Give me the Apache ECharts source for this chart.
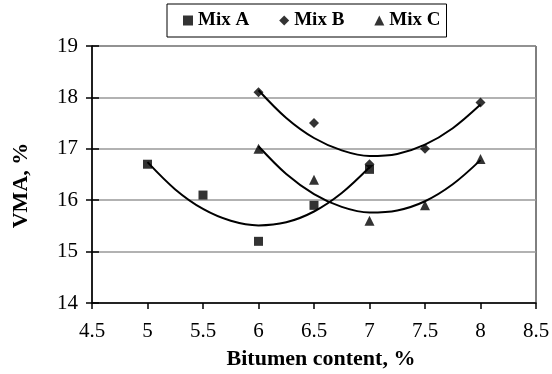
<!DOCTYPE html>
<html>
<head>
<meta charset="utf-8">
<script src="https://cdn.jsdelivr.net/npm/echarts@6/dist/echarts.min.js"></script>
<style>
  html, body { margin: 0; padding: 0; background: #fff; }
  #chart { width: 552px; height: 374px; }
</style>
</head>
<body>
<div id="chart"></div>
<script>
// measured points
const mixAx = [5, 5.5, 6, 6.5, 7];
const mixA = [16.7, 16.1, 15.2, 15.9, 16.6];
const mixBCx = [6, 6.5, 7, 7.5, 8];
const mixB = [18.1, 17.5, 16.7, 17.0, 17.9];
const mixC = [17.0, 16.4, 15.6, 15.9, 16.8];

// trend curves, every 0.25 %
const trendAx = [5, 5.25, 5.5, 5.75, 6, 6.25, 6.5, 6.75, 7];
const trendA = [16.74, 16.21, 15.83, 15.6, 15.51, 15.57, 15.78, 16.14, 16.64];
const trendBCx = [6, 6.25, 6.5, 6.75, 7, 7.25, 7.5, 7.75, 8];
const trendB = [18.14, 17.6, 17.21, 16.97, 16.86, 16.9, 17.08, 17.4, 17.86];
const trendC = [17.05, 16.51, 16.12, 15.87, 15.76, 15.8, 15.98, 16.31, 16.78];

const seriesNames = ['Mix A', 'Mix B', 'Mix C'];
const symbols = ['rect', 'diamond', 'triangle'];

const pairs = (xs, ys) => xs.map((x, i) => [x, ys[i]]);
const font = 'Liberation Serif';

const chart = echarts.init(document.getElementById('chart'));

const trend = (xs, ys) => ({
  type: 'line',
  data: pairs(xs, ys),
  smooth: 0.33,
  showSymbol: false,
  silent: true,
  lineStyle: { color: '#000', width: 2 },
  z: 3,
});

const marks = (name, xs, ys, sym, size) => ({
  name: name,
  type: 'scatter',
  data: pairs(xs, ys),
  symbol: sym,
  symbolSize: size,
  itemStyle: { color: '#000' },
  z: 4,
});

const option = {
  backgroundColor: '#fff',
  animation: false,
  legend: {
    data: seriesNames.map((n, i) => ({ name: n, icon: symbols[i] })),
    left: 167,
    top: 4,
    itemWidth: 10,
    itemHeight: 10,
    itemGap: 30,
    padding: [7, 6, 7, 16],
    borderColor: '#000',
    borderWidth: 1,
    textStyle: { fontFamily: font, fontWeight: 'bold', fontSize: 19, color: '#000' },
  },
  grid: {
    left: 92,
    right: 16,
    top: 46,
    bottom: 71,
    outerBoundsMode: 'none',
    show: true,
    borderColor: '#000',
    borderWidth: 1,
  },
  xAxis: {
    type: 'value',
    min: 4.5,
    max: 8.5,
    interval: 0.5,
    name: 'Bitumen content, %',
    nameLocation: 'middle',
    nameGap: 45,
    nameTextStyle: { fontFamily: font, fontWeight: 'bold', fontSize: 22, color: '#000', padding: [0, 0, 0, 14] },
    axisLine: { lineStyle: { color: '#000', width: 1.5 } },
    axisTick: { length: 6, lineStyle: { color: '#000', width: 1.5 } },
    axisLabel: { fontFamily: font, fontSize: 21, color: '#000', margin: 18 },
    splitLine: { show: false },
  },
  yAxis: [
    {
      type: 'value',
      min: 14,
      max: 19,
      interval: 1,
      name: 'VMA, %',
      nameLocation: 'middle',
      nameGap: 60,
      nameTextStyle: { fontFamily: font, fontWeight: 'bold', fontSize: 22, color: '#000', padding: [0, 22, 0, 0] },
      axisLine: { lineStyle: { color: '#000', width: 1.5 } },
      axisTick: { length: 6, lineStyle: { color: '#000', width: 1.5 } },
      axisLabel: { fontFamily: font, fontSize: 21, color: '#000', margin: 14 },
      splitLine: { lineStyle: { color: '#999', width: 1.5 } },
    },
    {
      type: 'value',
      position: 'left',
      min: 14,
      max: 19,
      interval: 1,
      axisLine: { show: false },
      axisTick: { inside: true, length: 7, lineStyle: { color: '#000', width: 1.5 } },
      axisLabel: { show: false },
      splitLine: { show: false },
    },
  ],
  series: [
    trend(trendAx, trendA),
    trend(trendBCx, trendB),
    trend(trendBCx, trendC),
    marks('Mix A', mixAx, mixA, 'rect', 9),
    marks('Mix B', mixBCx, mixB, 'diamond', 10),
    marks('Mix C', mixBCx, mixC, 'triangle', 10),
  ],
};

chart.setOption(option);
</script>
</body>
</html>
